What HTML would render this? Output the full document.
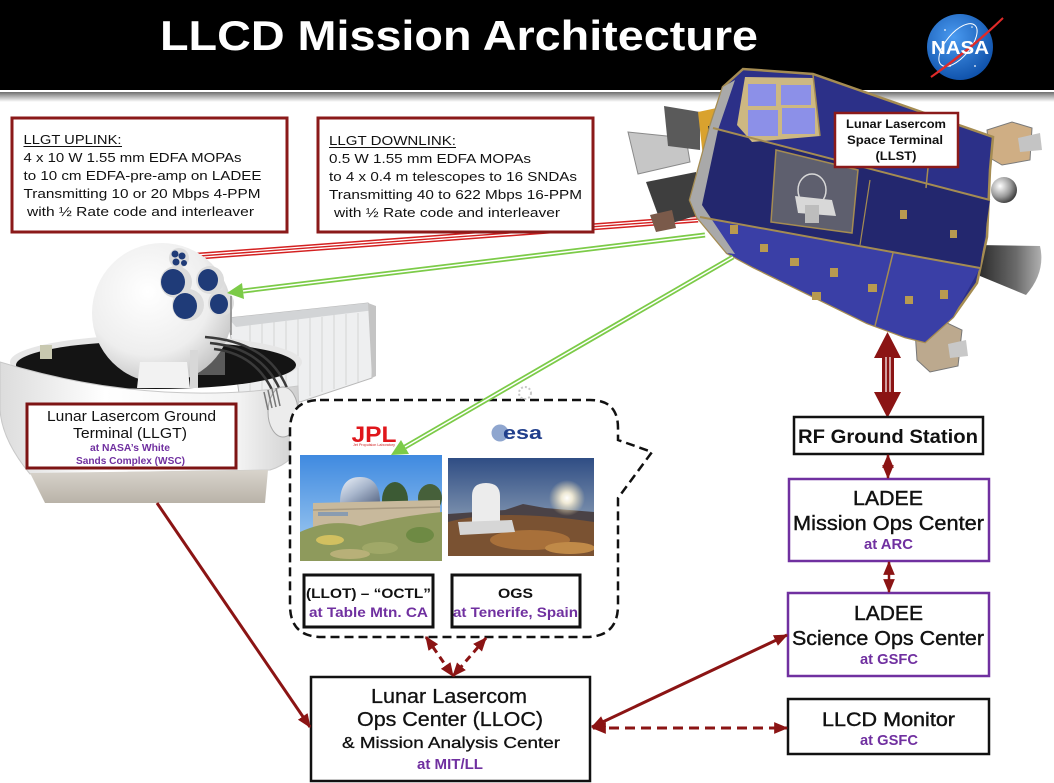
<!DOCTYPE html>
<html><head><meta charset="utf-8">
<style>
html,body{margin:0;padding:0;background:#fff;}
svg{display:block;}
text{font-family:"Liberation Sans",Arial,sans-serif;}
</style></head><body>
<svg width="1054" height="783" viewBox="0 0 1054 783" xmlns="http://www.w3.org/2000/svg">
<defs>
<linearGradient id="band" x1="0" y1="0" x2="0" y2="1"><stop offset="0" stop-color="#6e6e6e"/><stop offset="0.5" stop-color="#b8b8b8"/><stop offset="1" stop-color="#ffffff"/></linearGradient>
<radialGradient id="nasa" cx="0.4" cy="0.35" r="0.7"><stop offset="0" stop-color="#4a9af0"/><stop offset="1" stop-color="#0d4fa8"/></radialGradient>
<radialGradient id="sph" cx="0.4" cy="0.35" r="0.75"><stop offset="0" stop-color="#ffffff"/><stop offset="0.6" stop-color="#eeeeee"/><stop offset="1" stop-color="#b9b9b9"/></radialGradient>
<linearGradient id="bowl" x1="0" y1="0" x2="1" y2="0"><stop offset="0" stop-color="#dcdcdc"/><stop offset="0.35" stop-color="#ffffff"/><stop offset="0.8" stop-color="#f2f2f2"/><stop offset="1" stop-color="#cfcfcf"/></linearGradient>
<linearGradient id="skirt" x1="0" y1="0" x2="0" y2="1"><stop offset="0" stop-color="#d8d4cc"/><stop offset="1" stop-color="#b9b3a8"/></linearGradient>
<linearGradient id="noz" x1="0" y1="0" x2="1" y2="0"><stop offset="0" stop-color="#2a2a2a"/><stop offset="0.6" stop-color="#6a6a6a"/><stop offset="1" stop-color="#b0b0b0"/></linearGradient>
<radialGradient id="silver" cx="0.35" cy="0.35" r="0.7"><stop offset="0" stop-color="#ffffff"/><stop offset="0.6" stop-color="#9a9a9a"/><stop offset="1" stop-color="#3a3a3a"/></radialGradient>
<linearGradient id="jsky" x1="0" y1="0" x2="0" y2="1"><stop offset="0" stop-color="#3f8ae0"/><stop offset="1" stop-color="#a9d0f2"/></linearGradient>
<linearGradient id="jdome" x1="0" y1="0" x2="1" y2="1"><stop offset="0" stop-color="#eef3fa"/><stop offset="0.5" stop-color="#a8b6cc"/><stop offset="1" stop-color="#5a6a88"/></linearGradient>
<linearGradient id="esky" x1="0" y1="0" x2="0" y2="1"><stop offset="0" stop-color="#2f4d84"/><stop offset="0.6" stop-color="#7b90ad"/><stop offset="1" stop-color="#d6cbb8"/></linearGradient>
<radialGradient id="sun"><stop offset="0" stop-color="#ffffff"/><stop offset="0.3" stop-color="#fff6dc" stop-opacity="0.9"/><stop offset="1" stop-color="#ffe8b0" stop-opacity="0"/></radialGradient>
<clipPath id="cj"><rect x="300" y="455" width="142" height="106"/></clipPath>
<clipPath id="ce"><rect x="448" y="458" width="146" height="98"/></clipPath>
<marker id="ar" viewBox="0 0 12 10" refX="11" refY="5" markerWidth="14" markerHeight="12" orient="auto-start-reverse" markerUnits="userSpaceOnUse"><path d="M0,0 L12,5 L0,10 z" fill="#8b1414"/></marker>
</defs>

<!-- header -->
<rect x="0" y="0" width="1054" height="90" fill="#000"/>
<rect x="0" y="92" width="1054" height="10" fill="url(#band)"/>
<text x="160" y="50" font-size="42" font-weight="bold" fill="#fff" textLength="598" lengthAdjust="spacingAndGlyphs">LLCD Mission Architecture</text>

<!-- NASA logo -->
<circle cx="960" cy="47" r="33" fill="url(#nasa)"/>
<ellipse cx="958" cy="45" rx="26" ry="12" fill="none" stroke="#fff" stroke-width="1" transform="rotate(-50 958 45)"/>
<circle cx="945" cy="30" r="0.9" fill="#fff"/><circle cx="975" cy="66" r="0.9" fill="#fff"/><circle cx="950" cy="66" r="0.8" fill="#fff"/><circle cx="972" cy="27" r="0.8" fill="#fff"/>
<path d="M1003,18 Q975,45 931,77 Q968,52 1003,18 Z" fill="#e02a28" stroke="#e02a28" stroke-width="2"/>
<text x="960" y="54" font-size="18" font-weight="bold" fill="#fff" text-anchor="middle" textLength="58" lengthAdjust="spacingAndGlyphs">NASA</text>

<!-- laser beams -->
<line x1="698" y1="219" x2="186" y2="257" stroke="#d42020" stroke-width="7"/>
<line x1="698" y1="219" x2="186" y2="257" stroke="#fff" stroke-width="4"/>
<line x1="698" y1="219" x2="186" y2="257" stroke="#d42020" stroke-width="1.4"/>

<!-- satellite -->
<g>
 <polygon points="628,132 686,138 690,162 638,174" fill="#c6c6c6" stroke="#8a8a8a"/>
 <polygon points="664,106 700,112 700,150 668,146" fill="#5a5a5a"/>
 <polygon points="646,182 696,172 702,214 662,226" fill="#3e3e3e"/>
 <polygon points="650,215 672,210 676,228 656,232" fill="#7a5a4a"/>
 <polygon points="698,112 726,106 730,162 704,166" fill="#d9a22e"/>
 <rect x="708" y="126" width="14" height="22" fill="#2a2a2a"/>
 <polygon points="987,130 1012,122 1032,128 1030,160 1002,165 990,158" fill="#cfae84" stroke="#7a7a7a"/>
 <polygon points="1018,138 1040,133 1042,150 1020,152" fill="#c4c4c4"/>
 <circle cx="1004" cy="190" r="13" fill="url(#silver)"/>
 <path d="M978,245 L1040,246 Q1046,272 1026,295 L980,276 Z" fill="url(#noz)"/>
 <polygon points="915,330 945,322 962,330 958,366 930,372 917,360" fill="#bca98e" stroke="#777"/>
 <polygon points="948,344 966,340 968,356 950,358" fill="#c8c8c8"/>
 <polygon points="723,87 743,69 813,74 933,116 993,137 990,170 987,237 977,283 953,317 925,342 905,337 867,323 753,267 727,253 697,217 690,200 710,127" fill="#2c3088" stroke="#a58c52" stroke-width="2.5"/>
 <polygon points="713,128 990,200 980,268 700,217" fill="#23276e"/>
 <polygon points="700,217 980,268 953,317 925,342 905,337 867,323 753,267 727,253" fill="#3a3fa6"/>
 <polygon points="723,87 735,80 718,130 702,205 735,254 727,253 697,217 690,200 710,127" fill="#a9a9a9"/>
 <polygon points="745,77 813,78 820,136 752,142 737,125" fill="#cdb882"/>
 <rect x="748" y="84" width="28" height="22" fill="#8c90e8"/>
 <rect x="781" y="85" width="30" height="20" fill="#8c90e8"/>
 <rect x="748" y="110" width="30" height="26" fill="#8c90e8"/>
 <rect x="782" y="108" width="33" height="26" fill="#8c90e8"/>
 <polygon points="776,150 858,170 852,233 771,222" fill="#5e5f6e" stroke="#a58c52" stroke-width="1.5"/>
 <ellipse cx="812" cy="190" rx="14" ry="16" fill="none" stroke="#d8d8d8" stroke-width="1.5"/>
 <polygon points="795,196 832,200 836,216 798,213" fill="#d8d8d8"/>
 <rect x="805" y="205" width="14" height="18" fill="#bdbdbd"/>
 <line x1="713" y1="128" x2="990" y2="200" stroke="#a58c52" stroke-width="2"/>
 <line x1="700" y1="217" x2="980" y2="268" stroke="#a58c52" stroke-width="2"/>
 <line x1="813" y1="75" x2="820" y2="136" stroke="#a58c52" stroke-width="1.5"/>
 <line x1="933" y1="117" x2="926" y2="188" stroke="#a58c52" stroke-width="1.5"/>
 <line x1="893" y1="253" x2="875" y2="326" stroke="#a58c52" stroke-width="1.5"/>
 <line x1="870" y1="180" x2="860" y2="245" stroke="#a58c52" stroke-width="1.2"/>
 <g fill="#b89a50">
  <rect x="760" y="244" width="8" height="8"/><rect x="790" y="258" width="9" height="8"/><rect x="830" y="268" width="8" height="9"/>
  <rect x="868" y="284" width="9" height="8"/><rect x="905" y="296" width="8" height="8"/><rect x="940" y="290" width="8" height="9"/>
  <rect x="812" y="292" width="9" height="8"/><rect x="900" y="210" width="7" height="9"/><rect x="950" y="230" width="7" height="8"/>
  <rect x="730" y="225" width="8" height="9"/><rect x="880" y="140" width="8" height="6"/>
 </g>
</g>

<!-- LLST label -->
<rect x="835" y="113" width="123" height="54" fill="#fff" stroke="#8b1a1a" stroke-width="2.5"/>
<g font-size="12" font-weight="bold" fill="#111" text-anchor="middle">
<text x="896" y="128" textLength="100" lengthAdjust="spacingAndGlyphs">Lunar Lasercom</text>
<text x="895" y="144" textLength="96" lengthAdjust="spacingAndGlyphs">Space Terminal</text>
<text x="896" y="160" textLength="41" lengthAdjust="spacingAndGlyphs">(LLST)</text>
</g>

<!-- text boxes top -->
<rect x="12" y="118" width="275" height="114" fill="#fff" stroke="#8b1a1a" stroke-width="3"/>
<rect x="318" y="118" width="275" height="114" fill="#fff" stroke="#8b1a1a" stroke-width="3"/>
<g font-size="13" fill="#111">
<text x="23.5" y="144" textLength="98" lengthAdjust="spacingAndGlyphs">LLGT UPLINK:</text>
<line x1="23.5" y1="146.5" x2="122" y2="146.5" stroke="#111" stroke-width="1"/>
<text x="23.5" y="162" textLength="218" lengthAdjust="spacingAndGlyphs">4 x 10 W 1.55 mm EDFA MOPAs</text>
<text x="23.5" y="180" textLength="238" lengthAdjust="spacingAndGlyphs">to 10 cm EDFA-pre-amp on LADEE</text>
<text x="23.5" y="198" textLength="237" lengthAdjust="spacingAndGlyphs">Transmitting 10 or 20 Mbps 4-PPM</text>
<text x="27" y="216" textLength="227" lengthAdjust="spacingAndGlyphs">with ½ Rate code and interleaver</text>
<text x="329" y="145" textLength="127" lengthAdjust="spacingAndGlyphs">LLGT DOWNLINK:</text>
<line x1="329" y1="147.5" x2="456" y2="147.5" stroke="#111" stroke-width="1"/>
<text x="329" y="163" textLength="202" lengthAdjust="spacingAndGlyphs">0.5 W 1.55 mm EDFA MOPAs</text>
<text x="329" y="181" textLength="248" lengthAdjust="spacingAndGlyphs">to 4 x 0.4 m telescopes to 16 SNDAs</text>
<text x="329" y="199" textLength="253" lengthAdjust="spacingAndGlyphs">Transmitting 40 to 622 Mbps 16-PPM</text>
<text x="334" y="217" textLength="226" lengthAdjust="spacingAndGlyphs">with ½ Rate code and interleaver</text>
</g>

<!-- ground terminal -->
<g>
 <polygon points="228,318 368,303 375,310 372,378 300,402 240,400" fill="#eeeff0" stroke="#b8b8b8"/>
 <polygon points="228,318 368,303 375,310 236,327" fill="#d2d4d6"/>
 <g stroke="#d4d4d4" stroke-width="1">
  <line x1="250" y1="325" x2="250" y2="398"/><line x1="262" y1="323" x2="262" y2="398"/><line x1="274" y1="322" x2="274" y2="398"/><line x1="286" y1="321" x2="286" y2="398"/><line x1="298" y1="319" x2="298" y2="398"/><line x1="310" y1="318" x2="310" y2="396"/><line x1="322" y1="317" x2="322" y2="392"/><line x1="334" y1="315" x2="334" y2="389"/><line x1="346" y1="314" x2="346" y2="385"/><line x1="358" y1="313" x2="358" y2="382"/>
 </g>
 <polygon points="368,303 376,306 376,376 372,378" fill="#c4c4c4"/>
 <ellipse cx="156" cy="362" rx="146" ry="27" fill="#e6e6e6"/>
 <ellipse cx="156" cy="365" rx="140" ry="24" fill="#141414"/>
 <rect x="40" y="345" width="12" height="14" fill="#c8c8b0"/>
 <rect x="195" y="350" width="30" height="25" fill="#5a5a5a"/>
 <circle cx="162" cy="313" r="70" fill="url(#sph)"/>
 <path d="M140,362 L187,362 L190,388 L137,388 Z" fill="#f2f2f2"/>
 <rect x="190" y="350" width="8" height="38" fill="#d8d8d8"/>
 <g fill="#dcdcdc"><circle cx="176" cy="282" r="16"/><circle cx="210" cy="280" r="14"/><circle cx="188" cy="305" r="16"/><circle cx="221" cy="303" r="13"/><circle cx="179" cy="258" r="10"/></g>
 <g fill="#1f3b78"><ellipse cx="173" cy="282" rx="12" ry="13"/><ellipse cx="208" cy="280" rx="10" ry="11"/><ellipse cx="185" cy="306" rx="12" ry="13"/><ellipse cx="219" cy="304" rx="9" ry="10"/><circle cx="175" cy="254" r="3.5"/><circle cx="182" cy="256" r="3.5"/><circle cx="176" cy="262" r="3.5"/><circle cx="184" cy="263" r="3"/></g>
 <line x1="231" y1="296" x2="231" y2="335" stroke="#888" stroke-width="1.5"/>
 <g fill="none" stroke="#3a3a3a" stroke-width="2.5">
  <path d="M205,337 Q268,342 287,388"/><path d="M210,343 Q262,348 280,390"/><path d="M214,349 Q256,354 273,392"/>
 </g>
 <path d="M0,362 Q150,408 298,386 L300,440 Q296,462 270,470 L30,474 Q2,440 0,410 Z" fill="url(#bowl)" stroke="#c8c8c8"/>
 <path d="M30,473 L268,470 L265,503 L45,503 Z" fill="url(#skirt)"/>
 <ellipse cx="283" cy="412" rx="15" ry="25" fill="#ececec" stroke="#a8a8a8"/>
 <g stroke="#777" stroke-width="1.5"><line x1="264" y1="392" x2="268" y2="410"/><line x1="268" y1="390" x2="272" y2="408"/><line x1="272" y1="389" x2="276" y2="407"/><line x1="276" y1="388" x2="280" y2="406"/></g>
</g>

<!-- LLGT label -->
<rect x="27" y="404" width="209" height="64" fill="#fff" stroke="#7d1414" stroke-width="3"/>
<text x="131.5" y="421" font-size="15" fill="#111" text-anchor="middle" textLength="169" lengthAdjust="spacingAndGlyphs">Lunar Lasercom Ground</text>
<text x="130" y="438" font-size="15" fill="#111" text-anchor="middle" textLength="114" lengthAdjust="spacingAndGlyphs">Terminal (LLGT)</text>
<text x="130" y="451" font-size="10.5" font-weight="bold" fill="#7030a0" text-anchor="middle" textLength="80" lengthAdjust="spacingAndGlyphs">at NASA’s White</text>
<text x="130.5" y="464" font-size="10.5" font-weight="bold" fill="#7030a0" text-anchor="middle" textLength="109" lengthAdjust="spacingAndGlyphs">Sands Complex (WSC)</text>

<!-- callout -->
<path d="M320,400 L590,400 Q618,400 618,428 L618,440 L652,452 L618,498 L618,605 Q618,637 586,637 L322,637 Q290,637 290,605 L290,430 Q290,400 320,400 Z" fill="#fff" stroke="#111" stroke-width="2.5" stroke-dasharray="9,5"/>
<circle cx="525" cy="393" r="6" fill="none" stroke="#c8c8c8" stroke-width="2" stroke-dasharray="2,2"/>

<!-- JPL logo -->
<text x="374" y="442" font-size="22" font-weight="bold" fill="#e0161b" text-anchor="middle" textLength="45" lengthAdjust="spacingAndGlyphs">JPL</text>
<text x="374" y="446" font-size="3.5" fill="#d02020" text-anchor="middle" textLength="42" lengthAdjust="spacingAndGlyphs">Jet Propulsion Laboratory</text>
<!-- esa logo -->
<circle cx="500" cy="433" r="8.5" fill="#8fa6cf"/>
<text x="503" y="439" font-size="18" font-weight="bold" fill="#213f8c" textLength="39" lengthAdjust="spacingAndGlyphs">esa</text>

<!-- JPL photo -->
<g clip-path="url(#cj)">
 <rect x="300" y="455" width="142" height="106" fill="url(#jsky)"/>
 <path d="M340,503 Q340,477 360,477 Q380,477 380,503 Z" fill="url(#jdome)"/>
 <ellipse cx="395" cy="500" rx="13" ry="18" fill="#3c5a34"/>
 <ellipse cx="430" cy="498" rx="12" ry="14" fill="#46603a"/>
 <polygon points="313,503 440,500 440,528 313,536" fill="#c8b99c"/>
 <rect x="318" y="512" width="30" height="4" fill="#8a9cb0"/>
 <line x1="313" y1="510" x2="440" y2="507" stroke="#a89a80" stroke-width="1.5"/>
 <path d="M300,532 Q330,518 360,526 Q400,516 442,512 L442,561 L300,561 Z" fill="#8e9a5c"/>
 <ellipse cx="330" cy="540" rx="14" ry="5" fill="#d2c060"/>
 <ellipse cx="380" cy="548" rx="18" ry="6" fill="#a0a868"/>
 <ellipse cx="420" cy="535" rx="14" ry="8" fill="#6e8a44"/>
 <ellipse cx="350" cy="554" rx="20" ry="5" fill="#b8b078"/>
</g>
<!-- ESA photo -->
<g clip-path="url(#ce)">
 <rect x="448" y="458" width="146" height="98" fill="url(#esky)"/>
 <path d="M448,514 L505,510 L523,504 L545,508 L594,512 L594,530 L448,530 Z" fill="#4a4246"/>
 <path d="M448,522 Q500,508 594,522 L594,556 L448,556 Z" fill="#7a5232"/>
 <ellipse cx="530" cy="540" rx="40" ry="10" fill="#a8703a"/>
 <ellipse cx="570" cy="548" rx="25" ry="6" fill="#c08a48"/>
 <circle cx="567" cy="498" r="18" fill="url(#sun)"/>
 <path d="M472,525 L472,496 Q472,483 486,483 Q500,483 500,496 L500,525 Z" fill="#ececec"/>
 <polygon points="458,522 512,520 515,532 460,535" fill="#d6d6d6"/>
</g>

<!-- LLOT / OGS boxes -->
<rect x="304" y="575" width="129" height="52" fill="#fff" stroke="#111" stroke-width="3"/>
<rect x="452" y="575" width="128" height="52" fill="#fff" stroke="#111" stroke-width="3"/>
<g font-size="14" font-weight="bold" text-anchor="middle">
<text x="368.5" y="598" fill="#111" textLength="125" lengthAdjust="spacingAndGlyphs">(LLOT) – “OCTL”</text>
<text x="368.5" y="617" fill="#7030a0" textLength="119" lengthAdjust="spacingAndGlyphs">at Table Mtn. CA</text>
<text x="515.5" y="598" fill="#111" textLength="35" lengthAdjust="spacingAndGlyphs">OGS</text>
<text x="515.5" y="617" fill="#7030a0" textLength="125" lengthAdjust="spacingAndGlyphs">at Tenerife, Spain</text>
</g>

<!-- green beams -->
<line x1="705" y1="235" x2="243" y2="291" stroke="#7ccb48" stroke-width="5"/>
<line x1="705" y1="235" x2="243" y2="291" stroke="#fff" stroke-width="1.5"/>
<polygon points="227,293 244,299 242,283" fill="#7ccb48"/>
<line x1="733" y1="257" x2="405" y2="447" stroke="#7ccb48" stroke-width="5"/>
<line x1="733" y1="257" x2="405" y2="447" stroke="#fff" stroke-width="1.5"/>
<polygon points="391,455 409,454 401,440" fill="#7ccb48"/>

<!-- RF big arrow -->
<polygon points="887.5,332 874,358 901,358" fill="#8b1414"/>
<rect x="882" y="357" width="12" height="36" fill="#8b1414"/>
<line x1="886" y1="357" x2="886" y2="393" stroke="#fff" stroke-width="1.2"/>
<line x1="890" y1="357" x2="890" y2="393" stroke="#fff" stroke-width="1.2"/>
<polygon points="874,392 901,392 887.5,418" fill="#8b1414"/>

<!-- right boxes -->
<rect x="794" y="417" width="189" height="37" fill="#fff" stroke="#111" stroke-width="2.5"/>
<text x="888" y="443" font-size="19" font-weight="bold" fill="#111" text-anchor="middle" textLength="180" lengthAdjust="spacingAndGlyphs">RF Ground Station</text>

<rect x="789" y="479" width="200" height="82" fill="#fff" stroke="#7030a0" stroke-width="2.5"/>
<text x="888" y="505" font-size="20" fill="#111" stroke="#111" stroke-width="0.4" text-anchor="middle" textLength="70" lengthAdjust="spacingAndGlyphs">LADEE</text>
<text x="888.5" y="530" font-size="20" fill="#111" stroke="#111" stroke-width="0.4" text-anchor="middle" textLength="191" lengthAdjust="spacingAndGlyphs">Mission Ops Center</text>
<text x="888.5" y="549" font-size="15" font-weight="bold" fill="#7030a0" text-anchor="middle" textLength="49" lengthAdjust="spacingAndGlyphs">at ARC</text>

<rect x="788" y="593" width="201" height="83" fill="#fff" stroke="#7030a0" stroke-width="2.5"/>
<text x="888.5" y="620" font-size="20" fill="#111" stroke="#111" stroke-width="0.4" text-anchor="middle" textLength="69" lengthAdjust="spacingAndGlyphs">LADEE</text>
<text x="888" y="645" font-size="20" fill="#111" stroke="#111" stroke-width="0.4" text-anchor="middle" textLength="192" lengthAdjust="spacingAndGlyphs">Science Ops Center</text>
<text x="889" y="664" font-size="15" font-weight="bold" fill="#7030a0" text-anchor="middle" textLength="58" lengthAdjust="spacingAndGlyphs">at GSFC</text>

<rect x="788" y="699" width="201" height="55" fill="#fff" stroke="#111" stroke-width="2.5"/>
<text x="888.5" y="726" font-size="19" fill="#111" stroke="#111" stroke-width="0.4" text-anchor="middle" textLength="133" lengthAdjust="spacingAndGlyphs">LLCD Monitor</text>
<text x="889" y="745" font-size="15" font-weight="bold" fill="#7030a0" text-anchor="middle" textLength="58" lengthAdjust="spacingAndGlyphs">at GSFC</text>

<!-- LLOC box -->
<rect x="311" y="677" width="279" height="104" fill="#fff" stroke="#111" stroke-width="2.5"/>
<text x="449" y="703" font-size="20" fill="#111" stroke="#111" stroke-width="0.3" text-anchor="middle" textLength="156" lengthAdjust="spacingAndGlyphs">Lunar Lasercom</text>
<text x="450" y="726" font-size="20" fill="#111" stroke="#111" stroke-width="0.3" text-anchor="middle" textLength="186" lengthAdjust="spacingAndGlyphs">Ops Center (LLOC)</text>
<text x="451" y="748" font-size="16" fill="#111" stroke="#111" stroke-width="0.3" text-anchor="middle" textLength="218" lengthAdjust="spacingAndGlyphs">&amp; Mission Analysis Center</text>
<text x="450" y="769" font-size="15" font-weight="bold" fill="#7030a0" text-anchor="middle" textLength="66" lengthAdjust="spacingAndGlyphs">at MIT/LL</text>

<!-- connectors -->
<g stroke="#8b1414" stroke-width="3" fill="none">
 <line x1="157" y1="503" x2="310" y2="727" marker-end="url(#ar)"/>
 <line x1="592" y1="727" x2="787" y2="635" marker-start="url(#ar)" marker-end="url(#ar)"/>
 <line x1="593" y1="728" x2="787" y2="728" stroke-dasharray="10,6" marker-start="url(#ar)" marker-end="url(#ar)"/>
 <line x1="426" y1="637" x2="453" y2="676" stroke-dasharray="7,5" marker-start="url(#ar)" marker-end="url(#ar)"/>
 <line x1="486" y1="638" x2="453" y2="676" stroke-dasharray="7,5" marker-start="url(#ar)" marker-end="url(#ar)"/>
 <line x1="888" y1="455" x2="888" y2="478" stroke-width="2.5" marker-start="url(#ar)" marker-end="url(#ar)"/>
 <line x1="889" y1="562" x2="889" y2="592" stroke-width="2.5" marker-start="url(#ar)" marker-end="url(#ar)"/>
</g>
</svg>
</body></html>
